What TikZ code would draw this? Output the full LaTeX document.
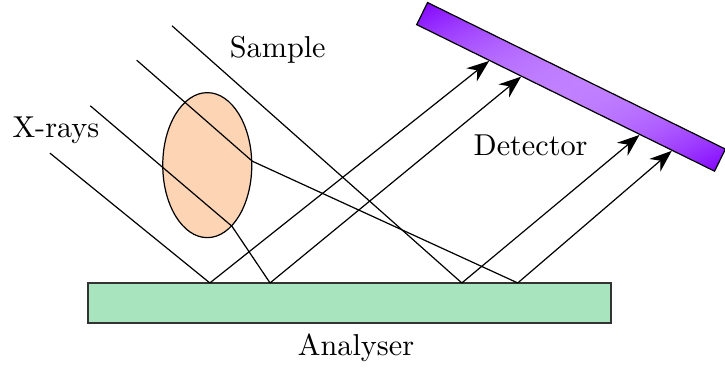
\documentclass[tikz,border=0pt]{standalone}
\usepackage{tikz}
\usetikzlibrary{arrows.meta,shapes.geometric,shadings,calc}

\definecolor{analysergreen}{RGB}{168,228,190}
\definecolor{samplepeach}{RGB}{253,213,180}
\definecolor{detviolet}{RGB}{128,0,255}

\begin{document}
\begin{tikzpicture}[
    >={Stealth[length=2.6mm]},
    analyser/.style={
        rectangle,
        draw=black!80,
        semithick,
        fill=analysergreen,
        minimum width=6.08cm,
        minimum height=0.465cm,
        inner sep=0pt
    },
    sample/.style={
        ellipse,
        draw,
        fill=samplepeach,
        minimum width=1.035cm,
        minimum height=1.686cm,
        inner sep=0pt
    },
    detector/.style={
        rectangle,
        draw,
        shade,
        upper left=detviolet,
        upper right=white,
        lower left=white,
        lower right=detviolet,
        rotate=-26.2,
        minimum width=3.86cm,
        minimum height=0.286cm,
        inner sep=0pt
    },
    reflected/.style={->}
]
\useasboundingbox (0,0) rectangle (8.43,4.29);

% Analyser, sample and detector
\node[analyser] (ana) at (4.06,0.77) {};
\node (analabel) at (4.14,0.25) {Analyser};

\node[sample] (ell) at (2.41,2.37) {};
\node (samplelabel) at (3.23,3.71) {Sample};

\node[detector] (det) at (6.64,3.28) {};
\node (detlabel) at (6.17,2.60) {Detector};

\node (xlabel) at (0.65,2.77) {X-rays};

% Where the incoming rays start
\coordinate (s1) at (0.58,2.51);
\coordinate (s2) at (1.05,3.06);
\coordinate (s3) at (1.59,3.59);
\coordinate (s4) at (2.00,3.99);

% Reflection points on the analyser
\coordinate (p1) at (2.44,1.00);
\coordinate (p2) at (3.14,1.00);
\coordinate (p3) at (5.37,1.00);
\coordinate (p4) at (6.02,1.00);

% Hits on the detector
\coordinate (h1) at ($(det.south west)!0.245!(det.south east)$);
\coordinate (h2) at ($(det.south west)!0.352!(det.south east)$);
\coordinate (h3) at ($(det.south west)!0.748!(det.south east)$);
\coordinate (h4) at ($(det.south west)!0.856!(det.south east)$);

% Incoming rays
\draw (s1) -- (p1);
\draw (s2) -- (ell.-68) -- (p2);
\draw (s3) -- (ell.5) -- (p4);
\draw (s4) -- (p3);

% Reflected rays
\draw[reflected] (p1) -- (h1);
\draw[reflected] (p2) -- (h2);
\draw[reflected] (p3) -- (h3);
\draw[reflected] (p4) -- (h4);

\end{tikzpicture}
\end{document}
